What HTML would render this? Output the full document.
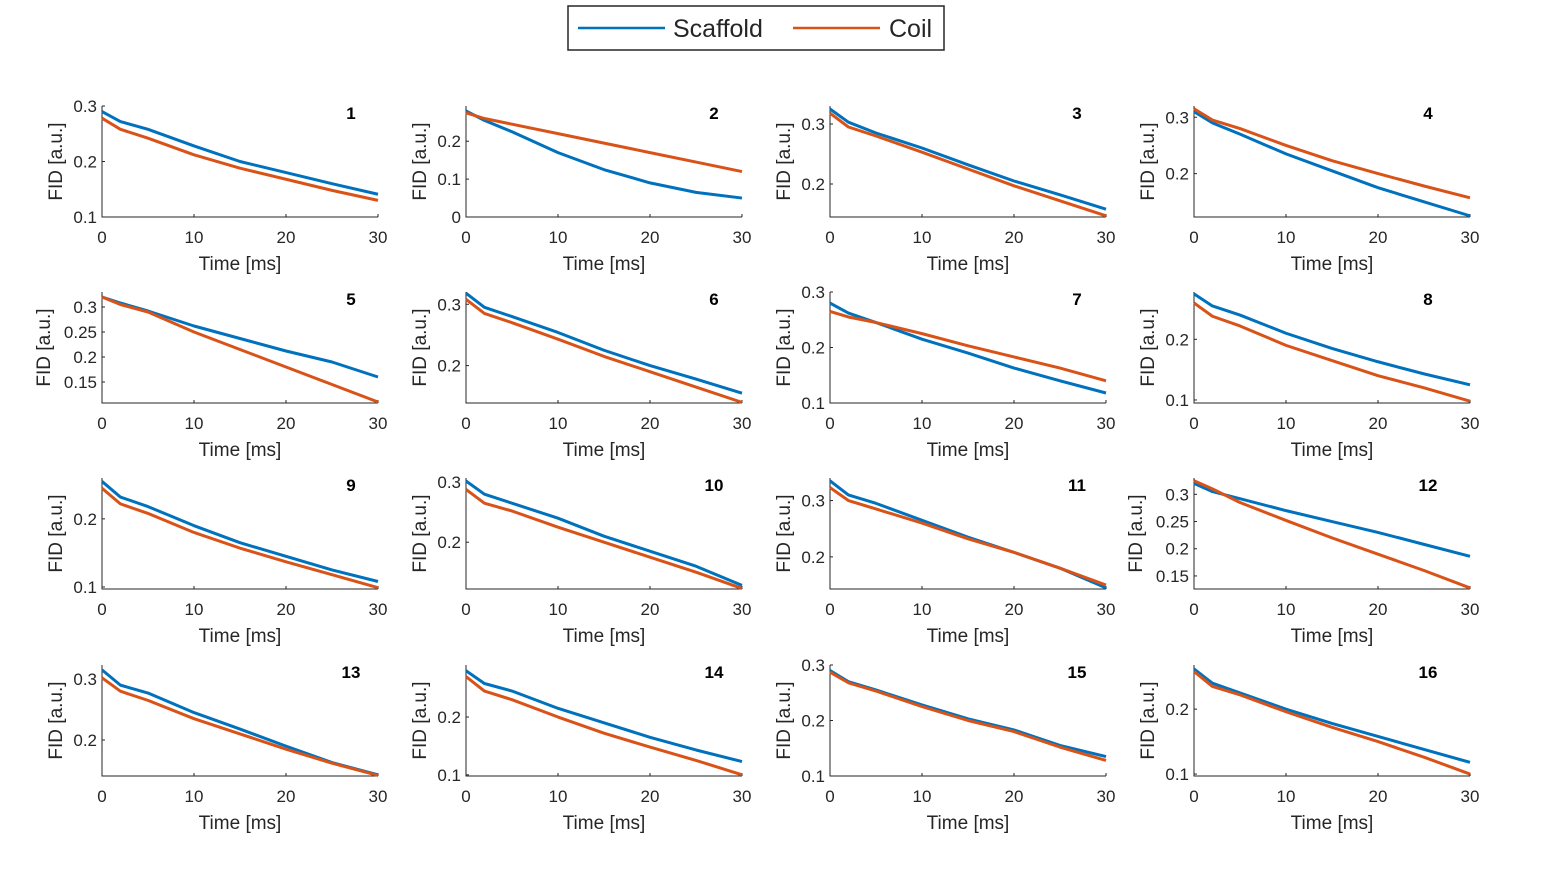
<!DOCTYPE html>
<html><head><meta charset="utf-8"><style>
body{margin:0;background:#fff;}
svg{display:block;font-family:"Liberation Sans",Arial,sans-serif;}
</style></head><body>
<svg id="fig" width="1555" height="876">
<g>
<rect x="568" y="6" width="376" height="44" fill="#fff" stroke="#262626" stroke-width="1.5"/>
<line x1="578" y1="28" x2="665" y2="28" stroke="#0072BD" stroke-width="2.5"/>
<text x="673" y="37" font-size="25" fill="#262626">Scaffold</text>
<line x1="793" y1="28" x2="880" y2="28" stroke="#D95319" stroke-width="2.5"/>
<text x="889" y="37" font-size="25" fill="#262626">Coil</text>
</g>
</svg>
<script>
const times=[0,2,5,10,15,20,25,30];
const xTicks=[0,10,20,30];
const scaffold=[
[0.29,0.272,0.258,0.228,0.200,0.180,0.160,0.141],
[0.28,0.255,0.225,0.17,0.125,0.09,0.065,0.05],
[0.325,0.303,0.285,0.26,0.232,0.205,0.182,0.158],
[0.31,0.29,0.27,0.235,0.205,0.175,0.15,0.125],
[0.32,0.308,0.292,0.262,0.237,0.212,0.19,0.16],
[0.318,0.295,0.28,0.254,0.225,0.2,0.178,0.155],
[0.28,0.262,0.245,0.215,0.19,0.163,0.14,0.118],
[0.275,0.255,0.24,0.21,0.185,0.163,0.143,0.125],
[0.255,0.232,0.218,0.19,0.165,0.145,0.125,0.108],
[0.302,0.28,0.265,0.24,0.21,0.185,0.16,0.128],
[0.335,0.31,0.295,0.265,0.235,0.208,0.18,0.145],
[0.32,0.305,0.292,0.27,0.25,0.23,0.208,0.186],
[0.315,0.29,0.277,0.245,0.218,0.19,0.163,0.143],
[0.28,0.258,0.245,0.215,0.19,0.165,0.143,0.123],
[0.29,0.27,0.255,0.228,0.203,0.183,0.155,0.135],
[0.262,0.24,0.225,0.2,0.178,0.158,0.138,0.118]];
const coil=[
[0.278,0.258,0.242,0.212,0.188,0.168,0.148,0.13],
[0.275,0.26,0.245,0.22,0.195,0.17,0.145,0.12],
[0.318,0.295,0.28,0.253,0.225,0.197,0.172,0.147],
[0.315,0.295,0.28,0.25,0.223,0.2,0.178,0.157],
[0.32,0.305,0.29,0.25,0.215,0.18,0.145,0.11],
[0.308,0.285,0.27,0.243,0.215,0.19,0.165,0.14],
[0.265,0.255,0.245,0.225,0.203,0.183,0.163,0.14],
[0.26,0.238,0.222,0.19,0.165,0.14,0.12,0.098],
[0.245,0.222,0.208,0.18,0.157,0.137,0.118,0.099],
[0.288,0.265,0.252,0.225,0.2,0.175,0.15,0.123],
[0.323,0.3,0.285,0.26,0.232,0.208,0.18,0.15],
[0.325,0.31,0.285,0.252,0.22,0.19,0.16,0.128],
[0.302,0.28,0.265,0.235,0.21,0.185,0.162,0.142],
[0.27,0.245,0.23,0.2,0.172,0.148,0.125,0.1],
[0.287,0.268,0.253,0.225,0.2,0.18,0.152,0.128],
[0.258,0.235,0.222,0.196,0.172,0.15,0.126,0.1]];
const yMin=[0.1,0,0.145,0.123,0.108,0.139,0.1,0.095,0.097,0.122,0.143,0.126,0.141,0.098,0.1,0.097];
const yMax=[0.3,0.293,0.33,0.32,0.33,0.32,0.3,0.278,0.26,0.307,0.34,0.33,0.323,0.29,0.3,0.268];
const yTicks=[[0.1,0.2,0.3],[0,0.1,0.2],[0.2,0.3],[0.2,0.3],[0.15,0.2,0.25,0.3],[0.2,0.3],[0.1,0.2,0.3],[0.1,0.2],
[0.1,0.2],[0.2,0.3],[0.2,0.3],[0.15,0.2,0.25,0.3],[0.2,0.3],[0.1,0.2],[0.1,0.2,0.3],[0.1,0.2]];
const NS='http://www.w3.org/2000/svg';
const svg=document.getElementById('fig');
const colX=[102,466,830,1194], rowB=[217,403,589,776], W=276, H=111;
const numOff=[249,248,247,234];
function mk(tag,attrs,parent){const e=document.createElementNS(NS,tag);for(const k in attrs)e.setAttribute(k,attrs[k]);parent.appendChild(e);return e;}
for(let i=0;i<16;i++){
  const x0=colX[i%4], yb=rowB[Math.floor(i/4)], yt=yb-H;
  const sx=t=>x0+t/30*W;
  const sy=v=>yb-(v-yMin[i])/(yMax[i]-yMin[i])*H;
  const g=mk('g',{},svg);
  
  
  const ax=mk('path',{d:`M${x0},${yt}V${yb}H${x0+W}`,fill:'none',stroke:'#262626','stroke-width':1},g);
  
  
  xTicks.forEach(t=>{
    mk('line',{x1:sx(t),x2:sx(t),y1:yb,y2:yb-3,stroke:'#262626'},g);
    const tx=mk('text',{x:sx(t),y:yb+26,'font-size':17,'text-anchor':'middle',fill:'#262626'},g);
    tx.textContent=t;
    
    
  });
  let wide=false;
  yTicks[i].forEach(v=>{
    mk('line',{x1:x0,x2:x0+3,y1:sy(v),y2:sy(v),stroke:'#262626'},g);
    const s=(v===0.15||v===0.25)?String(v):(v===0?'0':v.toFixed(1));
    if(s.length>3)wide=true;
    const tx=mk('text',{x:x0-5,y:sy(v)+6,'font-size':17,'text-anchor':'end',fill:'#262626'},g);
    tx.textContent=s;
    
    
  });
  const xl=mk('text',{x:x0+W/2,y:yb+53,'font-size':19,'text-anchor':'middle',fill:'#262626'},g);
  xl.textContent='Time [ms]';
  
  
  const lx=x0-(wide?52:40), ly=(yt+yb)/2;
  const yl=mk('text',{x:lx,y:ly,'font-size':19,'text-anchor':'middle',fill:'#262626',transform:`rotate(-90 ${lx} ${ly})`},g);
  yl.textContent='FID [a.u.]';
  
  
  const num=mk('text',{x:x0+numOff[i%4],y:yt+13,'font-size':17,'font-weight':'bold','text-anchor':'middle',fill:'#000'},g);
  num.textContent=i+1;
  
  
  [[scaffold,'#0072BD','scaffold-line'],[coil,'#D95319','coil-line']].forEach(([arr,c,n])=>{
    const pts=times.map((t,k)=>sx(t)+','+sy(arr[i][k])).join(' ');
    const pl=mk('polyline',{points:pts,fill:'none',stroke:c,'stroke-width':3,'stroke-linejoin':'round'},g);
    
    
  });
}
</script>
</body></html>
